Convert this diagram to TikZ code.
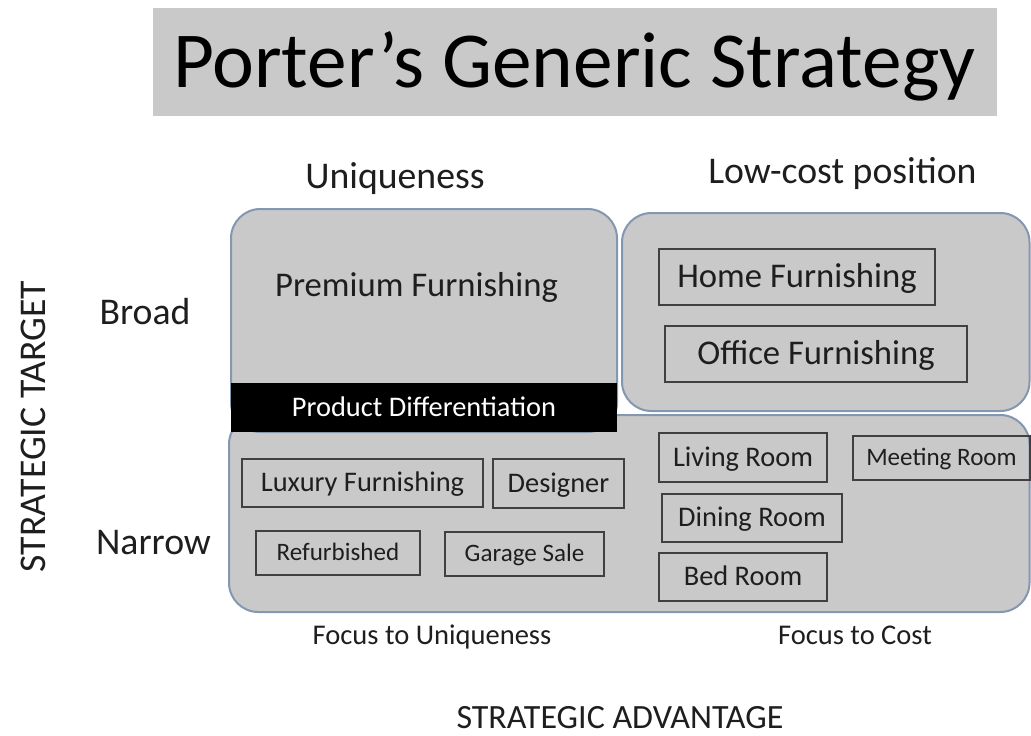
\documentclass[tikz,border=0pt]{standalone}
\usepackage{fontspec}
\setmainfont{Carlito}
\definecolor{panelfill}{RGB}{201,201,201}
\definecolor{panelrule}{RGB}{132,151,176}
\definecolor{boxrule}{RGB}{64,64,64}
\definecolor{ink}{RGB}{30,30,30}
\newcommand{\pxsize}[1]{\fontsize{#1}{#1}\selectfont}
\begin{document}
\begin{tikzpicture}[x=0.75pt,y=-0.75pt,
  panel/.style={draw=panelrule,line width=1.5pt,fill=panelfill,rounded corners=22pt},
  itembox/.style={draw=boxrule,line width=1.2pt,inner sep=0pt,text=ink,text depth=0pt},
  bigitem/.style={itembox,font=\pxsize{26pt},text height=15.6pt},
  miditem/.style={itembox,font=\pxsize{21.3pt},text height=12.8pt},
  smallitem/.style={itembox,font=\pxsize{18.8pt},text height=11.3pt},
  label/.style={text=ink,inner sep=0pt,anchor=base},
  axislabel/.style={label,font=\pxsize{28.3pt}},
  caption/.style={label,font=\pxsize{21.4pt}}]
\path[use as bounding box] (0,0) rectangle (1031,735);

% title banner
\fill[panelfill] (153,8) rectangle (997,116);
\node[label,text=black,font=\pxsize{59.5pt}] (title) at (574,88) {Porter’s Generic Strategy};

% column headings
\node[axislabel] (uniq) at (395,188) {Uniqueness};
\node[axislabel] (lowcost) at (842.5,183) {Low-cost position};

% row headings and axis titles
\node[axislabel] (broad) at (145,324) {Broad};
\node[axislabel] (narrow) at (153.5,554) {Narrow};
\node[axislabel,rotate=90] (target) at (45,426.5) {STRATEGIC TARGET};
\node[axislabel,font=\pxsize{25.5pt}] (advantage) at (620,728) {STRATEGIC ADVANTAGE};

% quadrant panels
\draw[panel] (622,213) rectangle (1029.5,411);
\draw[panel] (229,415) rectangle (1029.5,612);
\draw[panel] (231,209) rectangle (617,432);
\fill[black] (231,383) rectangle (617,432);
\node[label,text=white,font=\pxsize{21.3pt}] (diff) at (424,416.5) {Product Differentiation};
\node[label,font=\pxsize{26pt}] (premium) at (416.5,296.5) {Premium Furnishing};

% broad, low cost
\node[bigitem,minimum width=207pt,minimum height=42pt] (home) at (797,277) {Home Furnishing};
\node[bigitem,minimum width=226.5pt,minimum height=42pt] (office) at (816,354) {Office Furnishing};

% narrow, uniqueness
\node[miditem,minimum width=180.75pt,minimum height=36pt] (luxury) at (362.5,483) {Luxury Furnishing};
\node[miditem,minimum width=98.25pt,minimum height=36.75pt] (designer) at (558.5,483.5) {Designer};
\node[smallitem,minimum width=123pt,minimum height=33pt] (refurb) at (338,553) {Refurbished};
\node[smallitem,minimum width=119.25pt,minimum height=33pt] (garage) at (524.5,554) {Garage Sale};

% narrow, low cost
\node[miditem,minimum width=126pt,minimum height=36.75pt] (living) at (743,457.5) {Living Room};
\node[smallitem,minimum width=132.75pt,minimum height=33pt] (meeting) at (941.5,458) {Meeting Room};
\node[miditem,minimum width=135pt,minimum height=36pt] (dining) at (752,518) {Dining Room};
\node[miditem,minimum width=126pt,minimum height=36pt] (bed) at (743,577) {Bed Room};

% focus captions
\node[caption] (focusu) at (432,644) {Focus to Uniqueness};
\node[caption] (focusc) at (855,644) {Focus to Cost};
\end{tikzpicture}
\end{document}
